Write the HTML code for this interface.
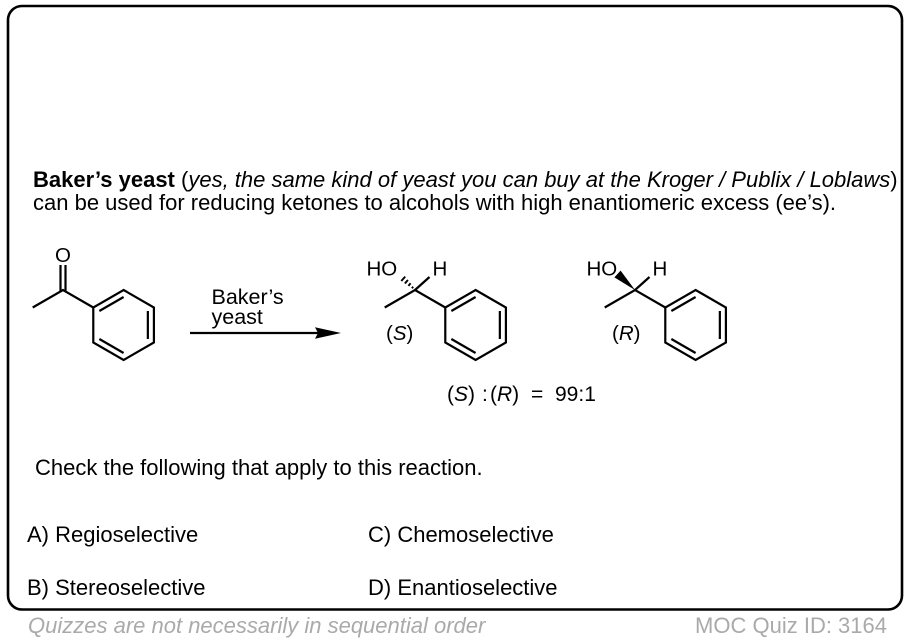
<!DOCTYPE html>
<html>
<head>
<meta charset="utf-8">
<style>
  html, body { margin:0; padding:0; background:#fff; }
  body { width:912px; height:642px; overflow:hidden; }
  svg { display:block; }
  text { font-family: "Liberation Sans", Arial, Helvetica, sans-serif; fill:#000; }
</style>
</head>
<body>
<svg width="912" height="642" viewBox="0 0 912 642" xmlns="http://www.w3.org/2000/svg">
  <!-- frame -->
  <rect x="8" y="6" width="894" height="603.5" rx="14" ry="14" fill="none" stroke="#000" stroke-width="2.6"/>

  <!-- intro text -->
  <text x="33" y="187" font-size="22"><tspan font-weight="bold">Baker’s yeast</tspan> (<tspan font-style="italic">yes, the same kind of yeast you can buy at the Kroger / Publix / Loblaws</tspan>)</text>
  <text x="33" y="210" font-size="22">can be used for reducing ketones to alcohols with high enantiomeric excess (ee’s).</text>

  <g stroke="#000" stroke-width="2.2" fill="none" stroke-linecap="butt" stroke-linejoin="miter">
    <!-- acetophenone -->
    <polyline points="32.7,307.5 63,290 93.3,307.5"/>
    <line x1="60.5" y1="265" x2="60.5" y2="291.4"/>
    <line x1="65.5" y1="265" x2="65.5" y2="291.4"/>
    <g transform="translate(123.6,325)">
      <polygon points="0,-35 30.31,-17.5 30.31,17.5 0,35 -30.31,17.5 -30.31,-17.5"/>
      <line x1="-24.25" y1="-14" x2="0" y2="-28"/>
      <line x1="24.25" y1="-14" x2="24.25" y2="14"/>
      <line x1="-24.25" y1="14" x2="0" y2="28"/>
    </g>

    <!-- arrow -->
    <line x1="190" y1="333" x2="320" y2="333"/>

    <!-- (S) product -->
    <polyline points="384.7,307.5 415,290 445.3,307.5"/>
    <line x1="415" y1="290" x2="429.5" y2="277"/>
    <g transform="translate(475.6,325)">
      <polygon points="0,-35 30.31,-17.5 30.31,17.5 0,35 -30.31,17.5 -30.31,-17.5"/>
      <line x1="-24.25" y1="-14" x2="0" y2="-28"/>
      <line x1="24.25" y1="-14" x2="24.25" y2="14"/>
      <line x1="-24.25" y1="14" x2="0" y2="28"/>
    </g>

    <!-- (R) product -->
    <polyline points="604.7,307.5 635,290 665.3,307.5"/>
    <line x1="635" y1="290" x2="649.5" y2="277"/>
    <g transform="translate(695.6,325)">
      <polygon points="0,-35 30.31,-17.5 30.31,17.5 0,35 -30.31,17.5 -30.31,-17.5"/>
      <line x1="-24.25" y1="-14" x2="0" y2="-28"/>
      <line x1="24.25" y1="-14" x2="24.25" y2="14"/>
      <line x1="-24.25" y1="14" x2="0" y2="28"/>
    </g>
  </g>

  <!-- arrowhead -->
  <polygon points="341,333 315,327.3 318,333 315,338.7" fill="#000"/>

  <!-- hashed bond (S) -->
  <g stroke="#000" stroke-width="1.9">
    <line x1="411.9" y1="288.3" x2="413.2" y2="286.8"/>
    <line x1="408.4" y1="285.9" x2="410.6" y2="283.3"/>
    <line x1="404.9" y1="283.5" x2="407.9" y2="280.0"/>
    <line x1="401.3" y1="281.0" x2="405.2" y2="276.6"/>
  </g>

  <!-- wedge bond (R) -->
  <polygon points="635,290 620.6,270.6 614.4,277.4" fill="#000"/>

  <!-- chem labels -->
  <text x="55" y="262" font-size="20.5">O</text>
  <text x="211.5" y="304" font-size="21.5">Baker’s</text>
  <text x="211.5" y="324" font-size="21.5">yeast</text>

  <text x="366.5" y="275.5" font-size="20.5">HO</text>
  <text x="432.5" y="275.5" font-size="20.5">H</text>
  <text x="386" y="340" font-size="20.5">(<tspan font-style="italic">S</tspan>)</text>

  <text x="586.5" y="275.5" font-size="20.5">HO</text>
  <text x="652.5" y="275.5" font-size="20.5">H</text>
  <text x="612" y="340" font-size="20.5">(<tspan font-style="italic">R</tspan>)</text>

  <text x="447" y="401" font-size="21">(<tspan font-style="italic">S</tspan>)</text>
  <text x="482" y="401" font-size="21">:</text>
  <text x="490" y="401" font-size="21">(<tspan font-style="italic">R</tspan>)</text>
  <text x="531" y="401" font-size="21">=</text>
  <text x="555" y="401" font-size="21">99:1</text>

  <!-- question -->
  <text x="35" y="475" font-size="22">Check the following that apply to this reaction.</text>
  <text x="27" y="542" font-size="22">A) Regioselective</text>
  <text x="368" y="542" font-size="22">C) Chemoselective</text>
  <text x="27" y="595" font-size="22">B) Stereoselective</text>
  <text x="368" y="595" font-size="22">D) Enantioselective</text>

  <!-- footer -->
  <text x="28" y="633" font-size="22" font-style="italic" style="fill:#aaaaaa">Quizzes are not necessarily in sequential order</text>
  <text x="887" y="633" font-size="22" text-anchor="end" style="fill:#aaaaaa">MOC Quiz ID: 3164</text>
</svg>
</body>
</html>
